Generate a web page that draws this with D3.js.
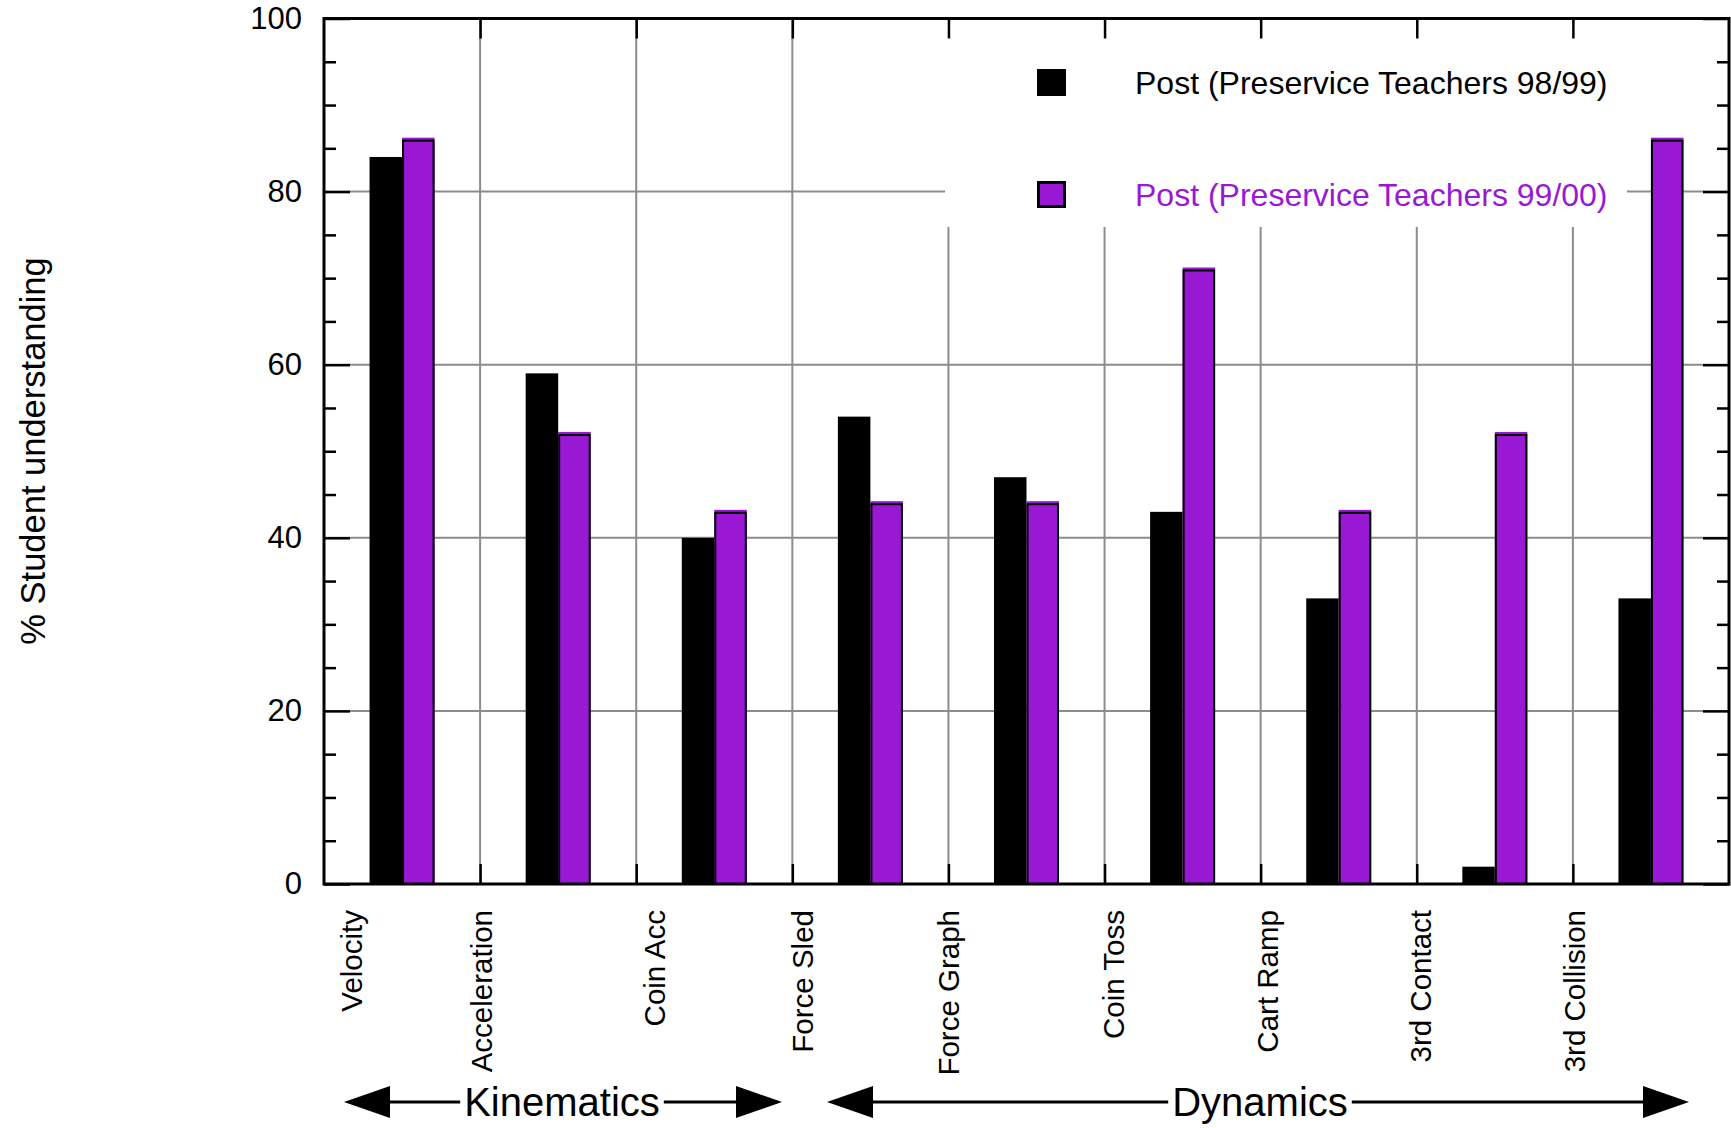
<!DOCTYPE html>
<html>
<head>
<meta charset="utf-8">
<script src="https://cdn.jsdelivr.net/npm/d3@7"></script>
<style>
  html, body { margin: 0; padding: 0; background: #fff; }
  svg { display: block; font-family: "Liberation Sans", Arial, Helvetica, sans-serif; }
</style>
</head>
<body>
<svg id="chart" width="1731" height="1128"></svg>
<script>
// ---- data ----
const categories = ["Velocity", "Acceleration", "Coin Acc", "Force Sled", "Force Graph",
                    "Coin Toss", "Cart Ramp", "3rd Contact", "3rd Collision"];
const seriesNames = ["Post (Preservice Teachers 98/99)", "Post (Preservice Teachers 99/00)"];
const post9899 = [84, 59, 40, 54, 47, 43, 33, 2, 33];
const post9900 = [86, 52, 43, 44, 44, 71, 43, 52, 86];
const yMajorTicks = [0, 20, 40, 60, 80, 100];
const yMinorTicks = [5, 10, 15, 25, 30, 35, 45, 50, 55, 65, 70, 75, 85, 90, 95];
const groupLabels = ["Kinematics", "Dynamics"];
const yTitle = "% Student understanding";

// ---- layout ----
const plotLeft = 324, plotRight = 1729, plotTop = 18.5, plotBottom = 884;
const purple = "#9918D4";
const gridColor = "#8c8c8c";
const labelNudge = [27, 1, 18, 10, 0, 9, 7, 4, 1];

const svg = d3.select("#chart");

const x = d3.scaleBand().domain(categories).range([plotLeft, plotRight]).paddingInner(0).paddingOuter(0);
const xb = d3.scaleLinear().domain([0, categories.length]).range([plotLeft, plotRight]);
const y = d3.scaleLinear().domain([0, 100]).range([plotBottom, plotTop]);
const barW = 32.5;
const inner = d3.scaleBand().domain([0, 1]).range([-barW, barW]);

// gridlines
const grid = svg.append("g");
grid.selectAll("line.h").data(yMajorTicks.filter(d => d > 0 && d < 100)).join("line")
  .attr("x1", plotLeft).attr("x2", plotRight)
  .attr("y1", d => y(d)).attr("y2", d => y(d))
  .attr("stroke", gridColor).attr("stroke-width", 2);
grid.selectAll("line.v").data(d3.range(1, categories.length)).join("line")
  .attr("x1", d => xb(d)).attr("x2", d => xb(d))
  .attr("y1", plotTop).attr("y2", plotBottom)
  .attr("stroke", gridColor).attr("stroke-width", 2);

// legend background (covers gridlines)
svg.append("rect").attr("x", 945).attr("y", plotTop + 2).attr("width", 1627 - 945).attr("height", 227 - plotTop - 2)
  .attr("fill", "#fff");

// bars
const rows = categories.map((c, i) => ({ c, v: [post9899[i], post9900[i]] }));
const gBars = svg.append("g");
rows.forEach(r => {
  const cx = x(r.c) + x.bandwidth() / 2;
  gBars.append("rect")
    .attr("x", cx + inner(0)).attr("width", inner.bandwidth())
    .attr("y", y(r.v[0])).attr("height", y(0) - y(r.v[0]))
    .attr("fill", "#000");
  gBars.append("rect")
    .attr("x", cx + inner(1)).attr("width", inner.bandwidth())
    .attr("y", y(r.v[1]) - 2).attr("height", y(0) - y(r.v[1]) + 2)
    .attr("fill", purple);
  gBars.append("rect")
    .attr("x", cx + inner(1) + 1).attr("width", inner.bandwidth() - 2)
    .attr("y", y(r.v[1]) + 1).attr("height", y(0) - y(r.v[1]) - 1)
    .attr("fill", "none").attr("stroke", "#000").attr("stroke-width", 2);
});

// axes ticks
function styleAxis(g) {
  g.select(".domain").remove();
  g.selectAll(".tick line").attr("stroke", "#000").attr("stroke-width", 2.5);
}
svg.append("g").attr("transform", `translate(${plotLeft},0)`)
  .call(d3.axisLeft(y).tickValues(yMajorTicks).tickSize(-26).tickPadding(22).tickFormat(d3.format("d")))
  .call(styleAxis)
  .call(g => g.selectAll("text").attr("font-size", 31).attr("fill", "#000")
    .attr("font-family", "'Liberation Sans', Arial, sans-serif"));
svg.append("g").attr("transform", `translate(${plotLeft},0)`)
  .call(d3.axisLeft(y).tickValues(yMinorTicks).tickSize(-12).tickFormat(""))
  .call(styleAxis);
svg.append("g").attr("transform", `translate(${plotRight},0)`)
  .call(d3.axisRight(y).tickValues(yMajorTicks).tickSize(-26).tickFormat(""))
  .call(styleAxis);
svg.append("g").attr("transform", `translate(${plotRight},0)`)
  .call(d3.axisRight(y).tickValues(yMinorTicks).tickSize(-12).tickFormat(""))
  .call(styleAxis);
svg.append("g").attr("transform", `translate(0,${plotTop})`)
  .call(d3.axisTop(xb).tickValues(d3.range(1, categories.length)).tickSize(-20).tickFormat(""))
  .call(styleAxis);
svg.append("g").attr("transform", `translate(0,${plotBottom})`)
  .call(d3.axisBottom(xb).tickValues(d3.range(1, categories.length)).tickSize(-20).tickFormat(""))
  .call(styleAxis);

// frame
svg.append("rect").attr("x", plotLeft).attr("y", plotTop).attr("width", plotRight - plotLeft).attr("height", plotBottom - plotTop)
  .attr("fill", "none").attr("stroke", "#000").attr("stroke-width", 3);

// category labels
svg.append("g").selectAll("text").data(categories).join("text")
  .attr("transform", (d, i) => `translate(${x(d) + labelNudge[i]},910) rotate(-90)`)
  .attr("text-anchor", "end").attr("dy", "0.36em")
  .attr("font-size", 29.5).attr("fill", "#000")
  .text(d => d);

// y title
svg.append("text")
  .attr("transform", "translate(33,451) rotate(-90)")
  .attr("text-anchor", "middle").attr("dy", "0.36em")
  .attr("font-size", 34.5).attr("fill", "#000")
  .text(yTitle);

// legend
const legendColors = ["#000", purple];
const legendY = [82.5, 194.5];
seriesNames.forEach((s, i) => {
  if (i === 0) {
    svg.append("rect").attr("x", 1037).attr("y", legendY[i] - 13.5).attr("width", 29).attr("height", 27)
      .attr("fill", "#000");
  } else {
    svg.append("rect").attr("x", 1038.5).attr("y", legendY[i] - 12).attr("width", 26).attr("height", 24)
      .attr("fill", purple).attr("stroke", "#000").attr("stroke-width", 3);
  }
  svg.append("text").attr("x", 1135).attr("y", legendY[i]).attr("dy", "0.36em")
    .attr("font-size", 32).attr("fill", legendColors[i]).text(s);
});

// group arrows
const groups = [
  { name: groupLabels[0], x0: 344, x1: 782, cx: 562 },
  { name: groupLabels[1], x0: 827, x1: 1689, cx: 1260 }
];
const ay = 1102, headL = 46, headH = 16;
groups.forEach(g => {
  const t = svg.append("text").attr("x", g.cx).attr("y", 1116).attr("text-anchor", "middle")
    .attr("font-size", 40).attr("fill", "#000").text(g.name);
  const bb = t.node().getBBox();
  svg.append("line").attr("x1", g.x0 + headL - 2).attr("x2", bb.x - 4).attr("y1", ay).attr("y2", ay)
    .attr("stroke", "#000").attr("stroke-width", 3);
  svg.append("line").attr("x1", bb.x + bb.width + 4).attr("x2", g.x1 - headL + 2).attr("y1", ay).attr("y2", ay)
    .attr("stroke", "#000").attr("stroke-width", 3);
  svg.append("path").attr("d", `M${g.x0},${ay} L${g.x0 + headL},${ay - headH} L${g.x0 + headL},${ay + headH} Z`).attr("fill", "#000");
  svg.append("path").attr("d", `M${g.x1},${ay} L${g.x1 - headL},${ay - headH} L${g.x1 - headL},${ay + headH} Z`).attr("fill", "#000");
});
</script>
</body>
</html>
